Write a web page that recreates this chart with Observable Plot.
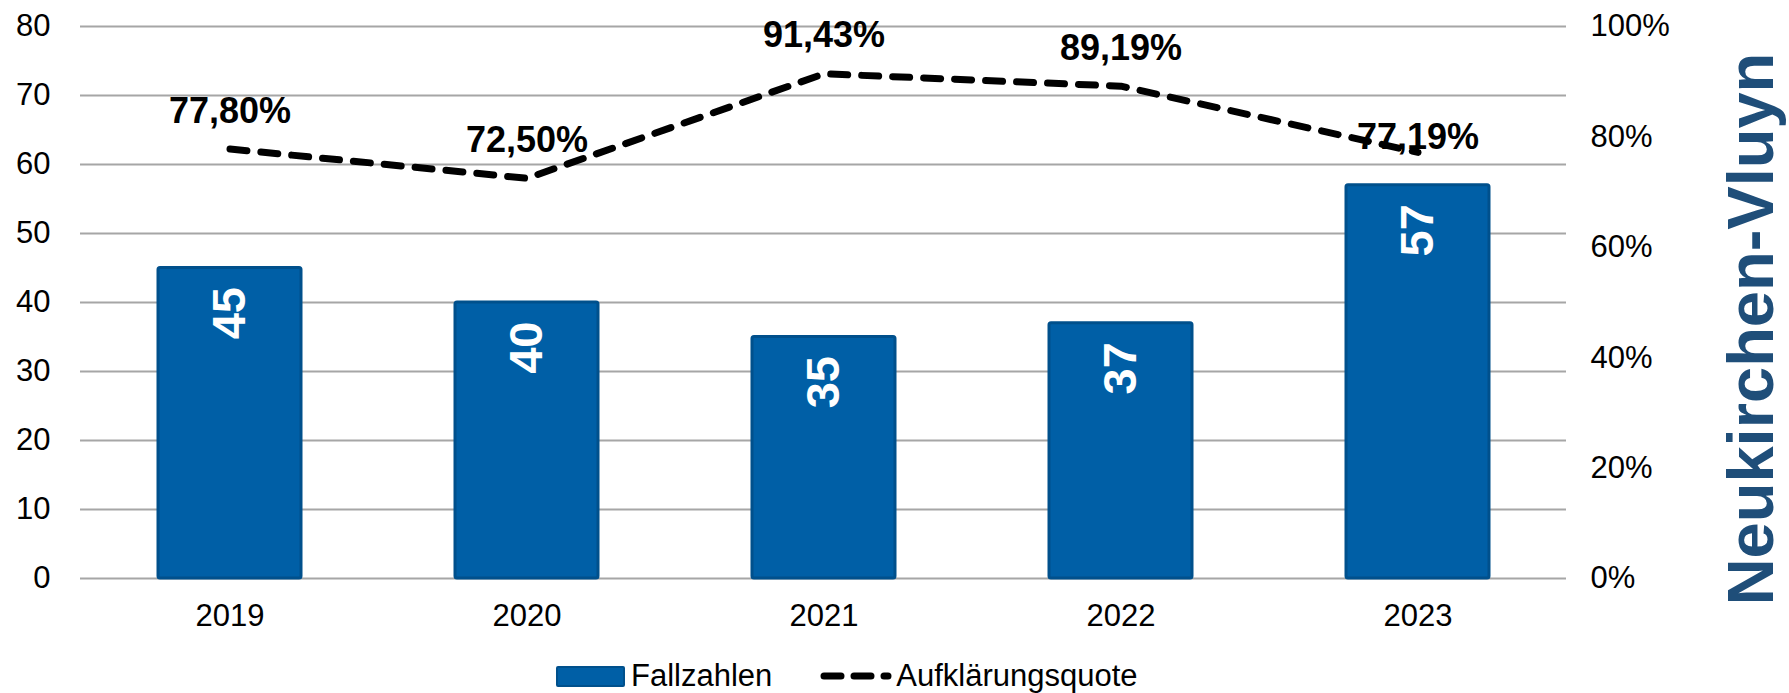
<!DOCTYPE html>
<html>
<head>
<meta charset="utf-8">
<script src="https://cdn.jsdelivr.net/npm/d3@7"></script>
<script src="https://cdn.jsdelivr.net/npm/@observablehq/plot@0.6"></script>
<style>
  html, body { margin: 0; padding: 0; background: #fff; }
  body { position: relative; width: 1789px; height: 693px; overflow: hidden; font-family: "Liberation Sans", Arial, sans-serif; }
  #chart svg { display: block; }
  #title { position: absolute; left: 1750px; top: 329px; transform: translate(-50%, -50%) rotate(-90deg); font: bold 65px "Liberation Sans", Arial, sans-serif; color: #1F4E79; white-space: nowrap; }
  #legend { position: absolute; left: 556px; top: 656px; height: 40px; display: flex; align-items: center; font-size: 31px; color: #000; }
  .sw { width: 65px; height: 17px; background: #005FA6; border: 2px solid #00508C; border-radius: 2px; margin-right: 6px; }
  .item { display: flex; align-items: center; }
</style>
</head>
<body>
<div id="chart"></div>
<div id="title">Neukirchen-Vluyn</div>
<div id="legend"></div>
<script>
const years = ["2019", "2020", "2021", "2022", "2023"];
const fallzahlen = [45, 40, 35, 37, 57];
const quote = [0.778, 0.725, 0.9143, 0.8919, 0.7719];
const quoteLabels = ["77,80%", "72,50%", "91,43%", "89,19%", "77,19%"];
const leftTicks = [0, 10, 20, 30, 40, 50, 60, 70, 80];
const rightTicks = [0, 0.2, 0.4, 0.6, 0.8, 1.0];
const yMax = 80;

const rows = years.map((y, i) => ({year: y, n: fallzahlen[i], q: quote[i], qy: quote[i] * yMax, qLabel: quoteLabels[i], idx: i}));

const font = "Liberation Sans, Arial, sans-serif";
const chart = Plot.plot({
  width: 1789,
  height: 645,
  marginLeft: 80,
  marginRight: 223,
  marginTop: 26,
  marginBottom: 67,
  style: {fontFamily: font, fontSize: "31px", color: "#000", background: "#fff"},
  x: {domain: years, paddingInner: 0.52, paddingOuter: 0.26, label: null},
  y: {domain: [0, yMax], label: null},
  marks: [
    Plot.ruleY(leftTicks, {stroke: "#A6A6A6", strokeWidth: 2}),
    Plot.axisY(leftTicks, {anchor: "left", tickSize: 0, tickPadding: 30, label: null, fontSize: 31}),
    Plot.axisY(rightTicks.map(t => t * yMax), {anchor: "right", tickSize: 0, tickPadding: 24, label: null, fontSize: 31,
      tickFormat: d => Math.round(d / yMax * 100) + "%"}),
    Plot.axisX({tickSize: 0, tickPadding: 25, label: null, fontSize: 31}),
    Plot.barY(rows, {x: "year", y: "n", fill: "#005FA6", stroke: "#00508C", strokeWidth: 3, rx: 2}),
    Plot.text(rows, {x: "year", y: "n", text: d => String(d.n), rotate: -90, textAnchor: "end", lineAnchor: "middle",
      dy: 19, fill: "#fff", fontSize: 47, fontWeight: "bold"}),
    Plot.line(rows, {x: "year", y: "qy", stroke: "#000", strokeWidth: 7, strokeDasharray: "17,14", strokeLinecap: "round", strokeLinejoin: "round"}),
    Plot.text(rows.filter(d => d.idx < 4), {x: "year", y: "qy", text: "qLabel", dy: -38, lineAnchor: "middle", fontSize: 36, fontWeight: "bold", fill: "#000"}),
    Plot.text(rows.filter(d => d.idx === 4), {x: "year", y: "qy", text: "qLabel", dy: -15, lineAnchor: "middle", fontSize: 36, fontWeight: "bold", fill: "#000"})
  ]
});
document.getElementById("chart").appendChild(chart);

const legend = document.getElementById("legend");
legend.innerHTML = `
  <div class="item"><div class="sw"></div><span>Fallzahlen</span></div>
  <div class="item" style="margin-left:48px">
    <svg width="72" height="12" style="margin-right:4px"><line x1="4" y1="6" x2="68" y2="6" stroke="#000" stroke-width="7" stroke-linecap="round" stroke-dasharray="17,13"/></svg>
    <span>Aufklärungsquote</span></div>`;
</script>
</body>
</html>
